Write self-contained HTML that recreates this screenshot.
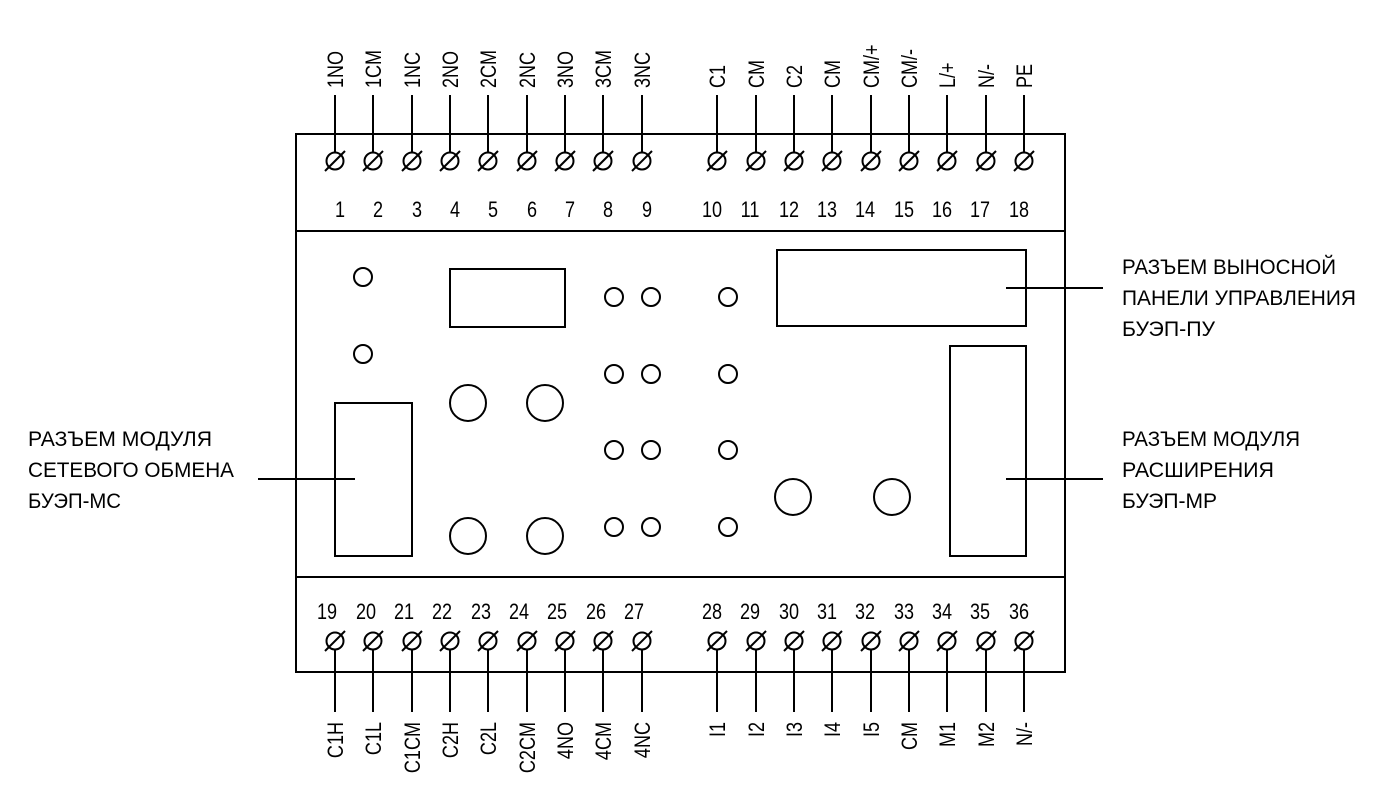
<!DOCTYPE html>
<html><head><meta charset="utf-8"><style>
html,body{margin:0;padding:0;background:#fff;}
svg{display:block;}
text{font-family:"Liberation Sans",Arial,sans-serif;font-size:22px;fill:#000;}
.s{font-size:21px;}
</style></head><body>
<svg width="1388" height="812" viewBox="0 0 1388 812" xmlns="http://www.w3.org/2000/svg">
<defs>
<g id="t"><circle cx="0" cy="0" r="8.5" fill="#fff" stroke="#000" stroke-width="2"/><line x1="-10" y1="10" x2="10" y2="-10" stroke="#000" stroke-width="2"/></g>
</defs>
<g fill="none" stroke="#000" stroke-width="2">
<rect x="296" y="134" width="769" height="538"/>
<line x1="296" y1="231" x2="1065" y2="231"/>
<line x1="296" y1="577" x2="1065" y2="577"/>
<rect x="450" y="269" width="115" height="58"/>
<rect x="777" y="250" width="249" height="76"/>
<rect x="950" y="346" width="76" height="210"/>
<rect x="335" y="403" width="77" height="153"/>
<line x1="1006" y1="288" x2="1103" y2="288"/>
<line x1="1006" y1="479" x2="1103" y2="479"/>
<line x1="258" y1="479" x2="355" y2="479"/>
<circle cx="363" cy="277" r="9"/><circle cx="363" cy="354" r="9"/>
<circle cx="614" cy="297" r="9"/><circle cx="651" cy="297" r="9"/><circle cx="728" cy="297" r="9"/>
<circle cx="614" cy="374" r="9"/><circle cx="651" cy="374" r="9"/><circle cx="728" cy="374" r="9"/>
<circle cx="614" cy="450" r="9"/><circle cx="651" cy="450" r="9"/><circle cx="728" cy="450" r="9"/>
<circle cx="614" cy="527" r="9"/><circle cx="651" cy="527" r="9"/><circle cx="728" cy="527" r="9"/>
<circle cx="468" cy="403" r="18"/><circle cx="545" cy="403" r="18"/>
<circle cx="468" cy="536" r="18"/><circle cx="545" cy="536" r="18"/>
<circle cx="793" cy="497" r="18"/><circle cx="892" cy="497" r="18"/>
<path d="M335 95V153M373 95V153M412 95V153M450 95V153M488 95V153M527 95V153M565 95V153M603 95V153M642 95V153M717 95V153M756 95V153M794 95V153M832 95V153M871 95V153M909 95V153M947 95V153M986 95V153M1024 95V153"/>
<path d="M335 649V712M373 649V712M412 649V712M450 649V712M488 649V712M527 649V712M565 649V712M603 649V712M642 649V712M717 649V712M756 649V712M794 649V712M832 649V712M871 649V712M909 649V712M947 649V712M986 649V712M1024 649V712"/>
</g>
<g>
<use href="#t" x="335" y="161"/><use href="#t" x="373" y="161"/><use href="#t" x="412" y="161"/><use href="#t" x="450" y="161"/><use href="#t" x="488" y="161"/><use href="#t" x="527" y="161"/><use href="#t" x="565" y="161"/><use href="#t" x="603" y="161"/><use href="#t" x="642" y="161"/>
<use href="#t" x="717" y="161"/><use href="#t" x="756" y="161"/><use href="#t" x="794" y="161"/><use href="#t" x="832" y="161"/><use href="#t" x="871" y="161"/><use href="#t" x="909" y="161"/><use href="#t" x="947" y="161"/><use href="#t" x="986" y="161"/><use href="#t" x="1024" y="161"/>
<use href="#t" x="335" y="641"/><use href="#t" x="373" y="641"/><use href="#t" x="412" y="641"/><use href="#t" x="450" y="641"/><use href="#t" x="488" y="641"/><use href="#t" x="527" y="641"/><use href="#t" x="565" y="641"/><use href="#t" x="603" y="641"/><use href="#t" x="642" y="641"/>
<use href="#t" x="717" y="641"/><use href="#t" x="756" y="641"/><use href="#t" x="794" y="641"/><use href="#t" x="832" y="641"/><use href="#t" x="871" y="641"/><use href="#t" x="909" y="641"/><use href="#t" x="947" y="641"/><use href="#t" x="986" y="641"/><use href="#t" x="1024" y="641"/>
</g>
<g text-anchor="middle">
<text transform="translate(340,217) scale(0.82,1)">1</text><text transform="translate(378,217) scale(0.82,1)">2</text><text transform="translate(417,217) scale(0.82,1)">3</text><text transform="translate(455,217) scale(0.82,1)">4</text><text transform="translate(493,217) scale(0.82,1)">5</text><text transform="translate(532,217) scale(0.82,1)">6</text><text transform="translate(570,217) scale(0.82,1)">7</text><text transform="translate(608,217) scale(0.82,1)">8</text><text transform="translate(647,217) scale(0.82,1)">9</text>
<text transform="translate(712,217) scale(0.82,1)">10</text><text transform="translate(750,217) scale(0.82,1)">11</text><text transform="translate(789,217) scale(0.82,1)">12</text><text transform="translate(827,217) scale(0.82,1)">13</text><text transform="translate(865,217) scale(0.82,1)">14</text><text transform="translate(904,217) scale(0.82,1)">15</text><text transform="translate(942,217) scale(0.82,1)">16</text><text transform="translate(980,217) scale(0.82,1)">17</text><text transform="translate(1019,217) scale(0.82,1)">18</text>
<text transform="translate(327,619) scale(0.82,1)">19</text><text transform="translate(366,619) scale(0.82,1)">20</text><text transform="translate(404,619) scale(0.82,1)">21</text><text transform="translate(442,619) scale(0.82,1)">22</text><text transform="translate(481,619) scale(0.82,1)">23</text><text transform="translate(519,619) scale(0.82,1)">24</text><text transform="translate(557,619) scale(0.82,1)">25</text><text transform="translate(596,619) scale(0.82,1)">26</text><text transform="translate(634,619) scale(0.82,1)">27</text>
<text transform="translate(712,619) scale(0.82,1)">28</text><text transform="translate(750,619) scale(0.82,1)">29</text><text transform="translate(789,619) scale(0.82,1)">30</text><text transform="translate(827,619) scale(0.82,1)">31</text><text transform="translate(865,619) scale(0.82,1)">32</text><text transform="translate(904,619) scale(0.82,1)">33</text><text transform="translate(942,619) scale(0.82,1)">34</text><text transform="translate(980,619) scale(0.82,1)">35</text><text transform="translate(1019,619) scale(0.82,1)">36</text>
</g>
<g text-anchor="start">
<text transform="translate(343,88) rotate(-90) scale(0.82,1)">1NO</text>
<text transform="translate(381,88) rotate(-90) scale(0.82,1)">1CM</text>
<text transform="translate(420,88) rotate(-90) scale(0.82,1)">1NC</text>
<text transform="translate(458,88) rotate(-90) scale(0.82,1)">2NO</text>
<text transform="translate(496,88) rotate(-90) scale(0.82,1)">2CM</text>
<text transform="translate(535,88) rotate(-90) scale(0.82,1)">2NC</text>
<text transform="translate(573,88) rotate(-90) scale(0.82,1)">3NO</text>
<text transform="translate(611,88) rotate(-90) scale(0.82,1)">3CM</text>
<text transform="translate(650,88) rotate(-90) scale(0.82,1)">3NC</text>
<text transform="translate(725,88) rotate(-90) scale(0.82,1)">C1</text>
<text transform="translate(764,88) rotate(-90) scale(0.82,1)">CM</text>
<text transform="translate(802,88) rotate(-90) scale(0.82,1)">C2</text>
<text transform="translate(840,88) rotate(-90) scale(0.82,1)">CM</text>
<text transform="translate(879,88) rotate(-90) scale(0.82,1)">CM/+</text>
<text transform="translate(917,88) rotate(-90) scale(0.82,1)">CM/-</text>
<text transform="translate(955,88) rotate(-90) scale(0.82,1)">L/+</text>
<text transform="translate(994,88) rotate(-90) scale(0.82,1)">N/-</text>
<text transform="translate(1032,88) rotate(-90) scale(0.82,1)">PE</text>
</g>
<g text-anchor="end">
<text transform="translate(343,722) rotate(-90) scale(0.82,1)">C1H</text>
<text transform="translate(381,722) rotate(-90) scale(0.82,1)">C1L</text>
<text transform="translate(420,722) rotate(-90) scale(0.82,1)">C1CM</text>
<text transform="translate(458,722) rotate(-90) scale(0.82,1)">C2H</text>
<text transform="translate(496,722) rotate(-90) scale(0.82,1)">C2L</text>
<text transform="translate(535,722) rotate(-90) scale(0.82,1)">C2CM</text>
<text transform="translate(573,722) rotate(-90) scale(0.82,1)">4NO</text>
<text transform="translate(611,722) rotate(-90) scale(0.82,1)">4CM</text>
<text transform="translate(650,722) rotate(-90) scale(0.82,1)">4NC</text>
<text transform="translate(725,722) rotate(-90) scale(0.82,1)">I1</text>
<text transform="translate(764,722) rotate(-90) scale(0.82,1)">I2</text>
<text transform="translate(802,722) rotate(-90) scale(0.82,1)">I3</text>
<text transform="translate(840,722) rotate(-90) scale(0.82,1)">I4</text>
<text transform="translate(879,722) rotate(-90) scale(0.82,1)">I5</text>
<text transform="translate(917,722) rotate(-90) scale(0.82,1)">CM</text>
<text transform="translate(955,722) rotate(-90) scale(0.82,1)">M1</text>
<text transform="translate(994,722) rotate(-90) scale(0.82,1)">M2</text>
<text transform="translate(1032,722) rotate(-90) scale(0.82,1)">N/-</text>
</g>
<g class="s">
<text class="s" x="1122" y="274" textLength="214" lengthAdjust="spacingAndGlyphs">РАЗЪЕМ ВЫНОСНОЙ</text>
<text class="s" x="1122" y="305" textLength="234" lengthAdjust="spacingAndGlyphs">ПАНЕЛИ УПРАВЛЕНИЯ</text>
<text class="s" x="1122" y="336" textLength="93" lengthAdjust="spacingAndGlyphs">БУЭП-ПУ</text>
<text class="s" x="1122" y="446" textLength="178" lengthAdjust="spacingAndGlyphs">РАЗЪЕМ МОДУЛЯ</text>
<text class="s" x="1122" y="477" textLength="152" lengthAdjust="spacingAndGlyphs">РАСШИРЕНИЯ</text>
<text class="s" x="1122" y="508" textLength="95" lengthAdjust="spacingAndGlyphs">БУЭП-МР</text>
<text class="s" x="28" y="446" textLength="184" lengthAdjust="spacingAndGlyphs">РАЗЪЕМ  МОДУЛЯ</text>
<text class="s" x="28" y="477" textLength="206" lengthAdjust="spacingAndGlyphs">СЕТЕВОГО ОБМЕНА</text>
<text class="s" x="28" y="508" textLength="93" lengthAdjust="spacingAndGlyphs">БУЭП-МС</text>
</g>
</svg>
</body></html>
